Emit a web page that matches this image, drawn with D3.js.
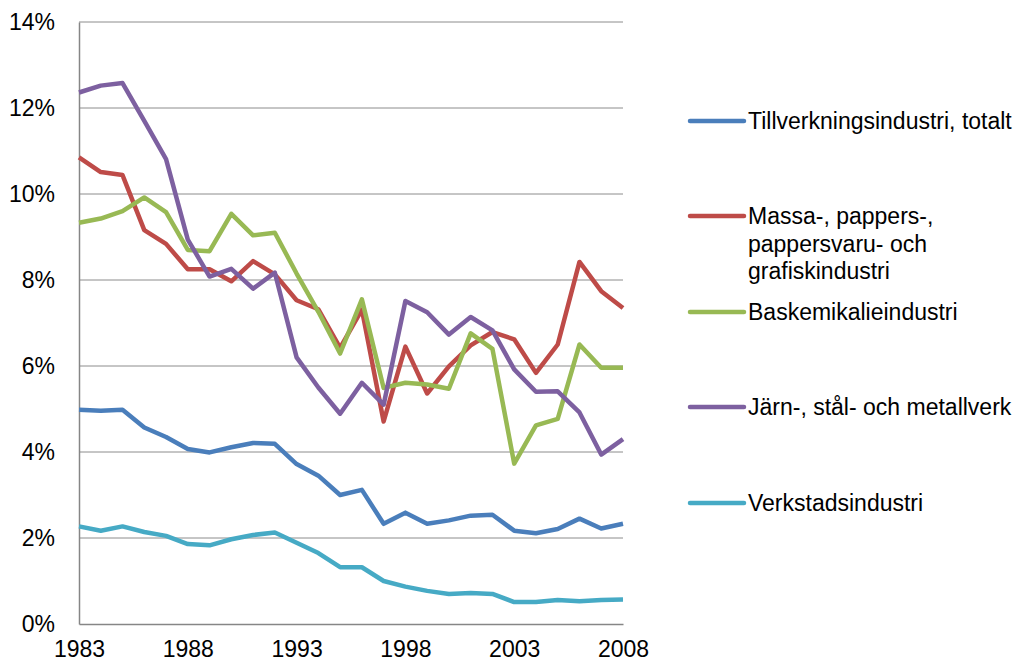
<!DOCTYPE html>
<html>
<head>
<meta charset="utf-8">
<script src="https://cdn.jsdelivr.net/npm/d3@7"></script>
<style>
  body { margin: 0; background: #fff; }
  text { font-family: "Liberation Sans", Arial, sans-serif; }
</style>
</head>
<body>
<div id="chart"></div>
<script>
const years = d3.range(1983, 2009);
const xTicks = [1983, 1988, 1993, 1998, 2003, 2008];
const yTicks = [0, 0.02, 0.04, 0.06, 0.08, 0.10, 0.12, 0.14];

const seriesNames = [
    "Tillverkningsindustri, totalt",
    "Massa-, pappers-, pappersvaru- och grafiskindustri",
    "Baskemikalieindustri",
    "Järn-, stål- och metallverk",
    "Verkstadsindustri"
];
const seriesColors = ["#4a7ebb", "#be4b48", "#98b954", "#7d60a0", "#46aac5"];

// values in percent, 1983..2008
const totalt = [4.98, 4.96, 4.98, 4.57, 4.35, 4.07, 3.99, 4.11, 4.21, 4.19, 3.72, 3.45, 3.00,
    3.12, 2.33, 2.59, 2.33, 2.41, 2.52, 2.54, 2.17, 2.11, 2.21, 2.45, 2.22, 2.33];
const massa = [10.85, 10.51, 10.44, 9.16, 8.84, 8.25, 8.25, 7.97, 8.44, 8.13, 7.53, 7.32, 6.42,
    7.31, 4.71, 6.45, 5.36, 5.99, 6.48, 6.79, 6.62, 5.84, 6.50, 8.42, 7.74, 7.35];
const baskemi = [9.33, 9.43, 9.60, 9.92, 9.58, 8.70, 8.67, 9.54, 9.04, 9.10, 8.15, 7.26, 6.29,
    7.55, 5.49, 5.61, 5.57, 5.47, 6.76, 6.40, 3.73, 4.62, 4.77, 6.50, 5.96, 5.96];
const jarn = [12.36, 12.52, 12.58, 11.70, 10.81, 8.94, 8.08, 8.26, 7.80, 8.17, 6.20, 5.50, 4.89,
    5.61, 5.10, 7.51, 7.25, 6.73, 7.14, 6.83, 5.92, 5.40, 5.41, 4.92, 3.94, 4.30];
const verkstad = [2.27, 2.17, 2.27, 2.14, 2.05, 1.86, 1.83, 1.97, 2.07, 2.13, 1.89, 1.65, 1.32,
    1.32, 1.00, 0.87, 0.77, 0.70, 0.72, 0.70, 0.51, 0.51, 0.56, 0.53, 0.56, 0.57];

const legendLines = [
    ["Tillverkningsindustri, totalt"],
    ["Massa-, pappers-,", "pappersvaru- och", "grafiskindustri"],
    ["Baskemikalieindustri"],
    ["Järn-, stål- och metallverk"],
    ["Verkstadsindustri"]
];

const allSeries = [totalt, massa, baskemi, jarn, verkstad].map((vals, i) => ({
    name: seriesNames[i],
    color: seriesColors[i],
    values: vals.map((v, j) => ({ year: years[j], value: v / 100 }))
}));

const width = 1027, height = 664;
const fontSize = 23;

let svg = d3.select("#chart")
    .append("svg")
    .attr("width", width)
    .attr("height", height);

const xScale = d3.scaleLinear()
    .domain([1983, 2008])
    .range([79, 623]);

const yScale = d3.scaleLinear()
    .domain([0, 0.14])
    .range([624, 22]);

// gridlines
svg.append("g")
    .selectAll("line")
    .data(yTicks.filter(d => d > 0))
    .enter().append("line")
    .attr("x1", xScale(1983))
    .attr("x2", xScale(2008))
    .attr("y1", d => yScale(d))
    .attr("y2", d => yScale(d))
    .attr("stroke", "#8c8c8c")
    .attr("stroke-width", 1);

// y axis
const yAxis = svg.append("g")
    .attr("transform", `translate(${xScale(1983)},0)`)
    .call(d3.axisLeft(yScale).tickValues(yTicks).tickFormat(d3.format(".0%")).tickSize(0).tickPadding(24));
yAxis.select(".domain").attr("stroke", "#868686").attr("stroke-width", 1.5);
yAxis.selectAll("text").attr("font-size", fontSize).attr("fill", "#000")
    .style("font-family", "'Liberation Sans', Arial, sans-serif");

// x axis
const xAxis = svg.append("g")
    .attr("transform", `translate(0,${yScale(0)})`)
    .call(d3.axisBottom(xScale).tickValues(xTicks).tickFormat(d3.format("d")).tickSize(0).tickPadding(17));
xAxis.select(".domain").attr("stroke", "#868686").attr("stroke-width", 1.5);
xAxis.selectAll("text").attr("font-size", fontSize).attr("fill", "#000")
    .style("font-family", "'Liberation Sans', Arial, sans-serif");

// lines
const line = d3.line()
    .x(d => xScale(d.year))
    .y(d => yScale(d.value));

svg.selectAll(".series")
    .data(allSeries)
    .enter().append("path")
    .attr("class", "series")
    .attr("d", d => line(d.values))
    .attr("fill", "none")
    .attr("stroke", d => d.color)
    .attr("stroke-width", 4.5)
    .attr("stroke-linejoin", "round");

// legend
const legendY = [121, 216, 312, 407, 503];
const legend = svg.selectAll(".legend")
    .data(allSeries)
    .enter().append("g")
    .attr("class", "legend")
    .attr("transform", (d, i) => `translate(690,${legendY[i]})`);

legend.append("line")
    .attr("x1", 0)
    .attr("x2", 54)
    .attr("stroke", d => d.color)
    .attr("stroke-width", 4.5)
    .attr("stroke-linecap", "round");

legend.append("text")
    .attr("x", 58)
    .attr("font-size", fontSize)
    .attr("fill", "#000")
    .each(function (d, i) {
        d3.select(this).selectAll("tspan")
            .data(legendLines[i])
            .enter().append("tspan")
            .attr("x", 58)
            .attr("y", (t, k) => k * 27.5 + 8)
            .text(t => t);
    });
</script>
</body>
</html>
